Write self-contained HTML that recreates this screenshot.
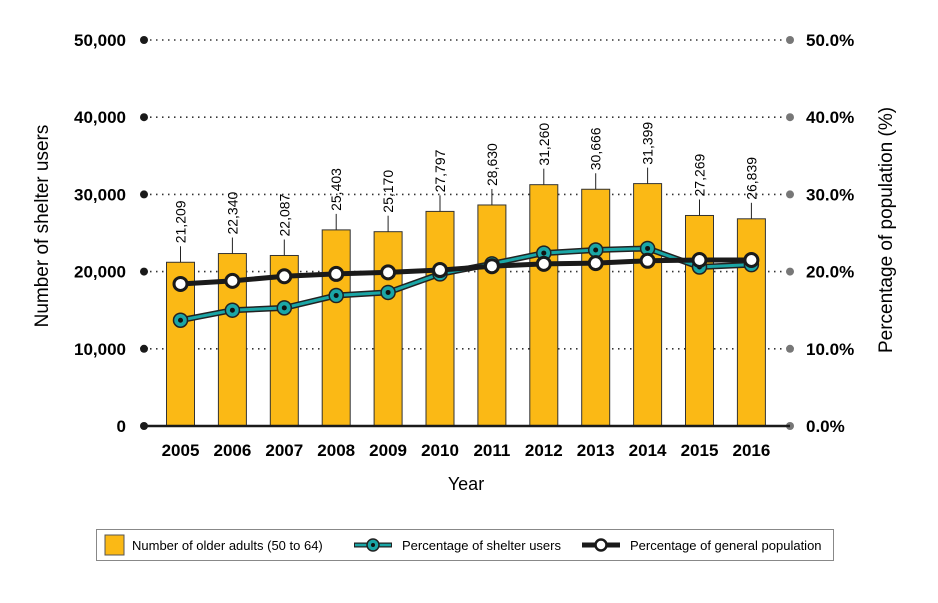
<!DOCTYPE html><html><head><style>body{margin:0;background:#fff}svg text{font-family:"Liberation Sans",sans-serif}</style></head><body>
<svg width="938" height="598" viewBox="0 0 938 598" xmlns="http://www.w3.org/2000/svg">
<g id="grid"></g>
<script>
const ns="http://www.w3.org/2000/svg",svg=document.currentScript.parentNode;
function el(t,a,txt){const e=document.createElementNS(ns,t);for(const k in a)e.setAttribute(k,a[k]);if(txt!=null)e.textContent=txt;svg.appendChild(e);return e;}
const Y=v=>426-v*7.72;
const labs=["0","10,000","20,000","30,000","40,000","50,000"];
for(let i=0;i<6;i++){const y=Y(i*10);
 if(i>0)el("line",{x1:150,y1:y,x2:785,y2:y,stroke:"#333","stroke-width":1.6,"stroke-dasharray":"1.5 4.5"});
 el("circle",{cx:144,cy:y,r:4,fill:"#1a1a1a"});el("circle",{cx:790,cy:y,r:4,fill:"#777"});
 el("text",{x:126,y:y+6,"text-anchor":"end","font-size":17,"font-weight":"bold"},labs[i]);
 el("text",{x:806,y:y+6,"font-size":17,"font-weight":"bold"},(i*10).toFixed(1)+"%");
}
const bars=[21209,22340,22087,25403,25170,27797,28630,31260,30666,31399,27269,26839];
const sh=[13.7,15.0,15.3,16.9,17.3,19.7,21.0,22.4,22.8,23.0,20.6,20.9];
const gp=[18.4,18.8,19.4,19.7,19.9,20.2,20.7,21.0,21.1,21.4,21.5,21.5];
const X=i=>180.5+51.9*i;
bars.forEach((b,i)=>{const x=X(i),y=Y(b/1000);
 el("rect",{x:x-14,y:y,width:28,height:426-y,fill:"#fbb915",stroke:"#333","stroke-width":1});
 el("line",{x1:x,y1:y,x2:x,y2:y-16,stroke:"#222","stroke-width":1});
 el("text",{x:0,y:0,"font-size":14,transform:`translate(${x+5},${y-19}) rotate(-90)`},b.toLocaleString("en-US"));
 el("text",{x:x,y:456,"text-anchor":"middle","font-size":17,"font-weight":"bold"},String(2005+i));
});
el("line",{x1:144,y1:426,x2:790,y2:426,stroke:"#1a1a1a","stroke-width":2.5});
el("polyline",{points:sh.map((v,i)=>X(i)+","+Y(v)).join(" "),fill:"none",stroke:"#222","stroke-width":6});
el("polyline",{points:sh.map((v,i)=>X(i)+","+Y(v)).join(" "),fill:"none",stroke:"#1aa6a6","stroke-width":3});
sh.forEach((v,i)=>{el("circle",{cx:X(i),cy:Y(v),r:7,fill:"#1aa6a6",stroke:"#222","stroke-width":1.5});el("circle",{cx:X(i),cy:Y(v),r:2.5,fill:"#111"});});
el("polyline",{points:gp.map((v,i)=>X(i)+","+Y(v)).join(" "),fill:"none",stroke:"#1a1a1a","stroke-width":5});
gp.forEach((v,i)=>el("circle",{cx:X(i),cy:Y(v),r:6.5,fill:"#fff",stroke:"#1a1a1a","stroke-width":3}));
el("text",{x:0,y:0,"font-size":19,"text-anchor":"middle",transform:"translate(48,226) rotate(-90)"},"Number of shelter users");
el("text",{x:0,y:0,"font-size":19,"text-anchor":"middle",transform:"translate(892,230) rotate(-90)"},"Percentage of population (%)");
el("text",{x:466,y:490,"font-size":18,"text-anchor":"middle"},"Year");
el("rect",{x:96.5,y:529.5,width:737,height:31,fill:"#fff",stroke:"#888","stroke-width":1});
el("rect",{x:105,y:535,width:19,height:20,fill:"#fbb915",stroke:"#555"});
el("text",{x:132,y:550,"font-size":13},"Number of older adults (50 to 64)");
el("line",{x1:354,y1:545,x2:392,y2:545,stroke:"#222","stroke-width":5});el("line",{x1:355,y1:545,x2:391,y2:545,stroke:"#1aa6a6","stroke-width":2.5});
el("circle",{cx:373,cy:545,r:6,fill:"#1aa6a6",stroke:"#222","stroke-width":1.5});el("circle",{cx:373,cy:545,r:2,fill:"#111"});
el("text",{x:402,y:550,"font-size":13},"Percentage of shelter users");
el("line",{x1:582,y1:545,x2:620,y2:545,stroke:"#1a1a1a","stroke-width":5});
el("circle",{cx:601,cy:545,r:5.5,fill:"#fff",stroke:"#1a1a1a","stroke-width":2.5});
el("text",{x:630,y:550,"font-size":13},"Percentage of general population");
</script>
</svg></body></html>
